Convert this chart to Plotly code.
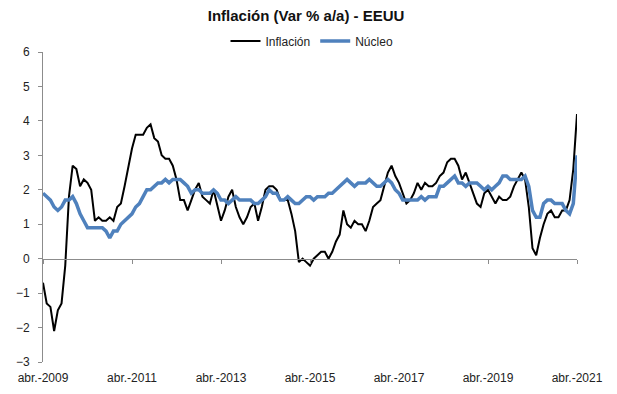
import plotly.graph_objects as go

# Monthly data, abr-2009 .. abr-2021
inflacion = [
    -0.7, -1.3, -1.4, -2.1, -1.5, -1.3, -0.2, 1.8, 2.7,
    2.6, 2.1, 2.3, 2.2, 2.0, 1.1, 1.2, 1.1, 1.1, 1.2, 1.1, 1.5,
    1.6, 2.1, 2.7, 3.2, 3.6, 3.6, 3.6, 3.8, 3.9, 3.5, 3.4, 3.0,
    2.9, 2.9, 2.7, 2.3, 1.7, 1.7, 1.4, 1.7, 2.0, 2.2, 1.8, 1.7,
    1.6, 2.0, 1.5, 1.1, 1.4, 1.8, 2.0, 1.5, 1.2, 1.0, 1.2, 1.5,
    1.6, 1.1, 1.5, 2.0, 2.1, 2.1, 2.0, 1.7, 1.7, 1.7, 1.3, 0.8,
    -0.1, 0.0, -0.1, -0.2, 0.0, 0.1, 0.2, 0.2, 0.0, 0.2, 0.5, 0.7,
    1.4, 1.0, 0.9, 1.1, 1.0, 1.0, 0.8, 1.1, 1.5, 1.6, 1.7, 2.1,
    2.5, 2.7, 2.4, 2.2, 1.9, 1.6, 1.7, 1.9, 2.2, 2.0, 2.2, 2.1,
    2.1, 2.2, 2.4, 2.5, 2.8, 2.9, 2.9, 2.7, 2.3, 2.5, 2.2, 1.9,
    1.6, 1.5, 1.9, 2.0, 1.8, 1.6, 1.8, 1.7, 1.7, 1.8, 2.1, 2.3,
    2.5, 2.3, 1.5, 0.3, 0.1, 0.6, 1.0, 1.3, 1.4, 1.2, 1.2, 1.4,
    1.4, 1.7, 2.6, 4.2,
]
nucleo = [
    1.9, 1.8, 1.7, 1.5, 1.4, 1.5, 1.7, 1.7, 1.8,
    1.6, 1.3, 1.1, 0.9, 0.9, 0.9, 0.9, 0.9, 0.8, 0.6, 0.8, 0.8,
    1.0, 1.1, 1.2, 1.3, 1.5, 1.6, 1.8, 2.0, 2.0, 2.1, 2.2, 2.2,
    2.3, 2.2, 2.3, 2.3, 2.3, 2.2, 2.1, 1.9, 2.0, 2.0, 1.9, 1.9,
    1.9, 2.0, 1.9, 1.7, 1.7, 1.6, 1.7, 1.8, 1.7, 1.7, 1.7, 1.7,
    1.6, 1.6, 1.7, 1.8, 2.0, 1.9, 1.9, 1.7, 1.7, 1.8, 1.7, 1.6,
    1.6, 1.7, 1.8, 1.8, 1.7, 1.8, 1.8, 1.8, 1.9, 1.9, 2.0, 2.1,
    2.2, 2.3, 2.2, 2.1, 2.2, 2.2, 2.2, 2.3, 2.2, 2.1, 2.1, 2.2,
    2.3, 2.2, 2.0, 1.9, 1.7, 1.7, 1.7, 1.7, 1.7, 1.8, 1.7, 1.8,
    1.8, 1.8, 2.1, 2.1, 2.2, 2.3, 2.4, 2.2, 2.2, 2.1, 2.2, 2.2,
    2.2, 2.1, 2.0, 2.1, 2.0, 2.1, 2.2, 2.4, 2.4, 2.3, 2.3, 2.3,
    2.3, 2.4, 2.1, 1.4, 1.2, 1.2, 1.6, 1.7, 1.7, 1.6, 1.6, 1.6,
    1.4, 1.3, 1.6, 3.0,
]
tick_labels = ["abr.-2009", "abr.-2011", "abr.-2013", "abr.-2015",
               "abr.-2017", "abr.-2019", "abr.-2021"]

n = len(inflacion)
x = list(range(n))
tick_vals = [i * 24 for i in range(len(tick_labels))]

W, H = 617, 394
OFF = 8  # default page body margin shifts the figure by 8px

fig = go.Figure()
fig.add_trace(go.Scatter(x=x, y=inflacion, mode="lines", name="Inflación",
                         line=dict(color="#000000", width=2)))
fig.add_trace(go.Scatter(x=x, y=nucleo, mode="lines", name="Núcleo",
                         line=dict(color="#4F81BD", width=3.5)))
# invisible helper trace for the axis line crossing at zero
fig.add_trace(go.Scatter(x=x, y=nucleo, mode="lines", xaxis="x2",
                         showlegend=False, hoverinfo="skip",
                         line=dict(color="rgba(0,0,0,0)", width=0)))

axis_font = dict(family="Liberation Sans, Arial, sans-serif", size=12, color="#222222")
fig.update_layout(
    width=W, height=H,
    paper_bgcolor="white", plot_bgcolor="white",
    margin=dict(l=43 - OFF, r=W - (577 - OFF), t=52 - OFF, b=H - (362 - OFF), autoexpand=False),
    title=dict(text="<b>Inflación (Var % a/a) - EEUU</b>", x=(312 - OFF) / W, xanchor="center",
               xref="paper", y=1 - (16 - OFF) / H, yanchor="middle",
               font=dict(family="Liberation Sans, Arial, sans-serif", size=15, color="#111111")),
    legend=dict(orientation="h", x=(312 - 43) / 534, xanchor="center",
                y=1 + (52 - 41) / 310, yanchor="middle",
                font=dict(family="Liberation Sans, Arial, sans-serif", size=12, color="#222222"),
                itemwidth=30, bgcolor="rgba(0,0,0,0)", traceorder="normal"),
    xaxis=dict(range=[0, n - 1], tickmode="array", tickvals=tick_vals, ticktext=tick_labels,
               showline=False, showgrid=False, zeroline=False, ticks="",
               ticklabelstandoff=7, tickfont=axis_font),
    xaxis2=dict(range=[0, n - 1], overlaying="x", anchor="free", position=1 / 3,
                side="bottom", tickmode="array", tickvals=tick_vals, showticklabels=False,
                showline=True, linecolor="#8C8C8C", linewidth=1, ticks="outside",
                ticklen=4, tickcolor="#8C8C8C", showgrid=False, zeroline=False),
    yaxis=dict(range=[-3, 6], dtick=1, showline=True, linecolor="#8C8C8C", linewidth=1,
               ticks="outside", ticklen=4, tickcolor="#8C8C8C", showgrid=False,
               zeroline=False, ticklabelstandoff=6, tickfont=axis_font),
    showlegend=True,
)

fig.write_html("out.html")
